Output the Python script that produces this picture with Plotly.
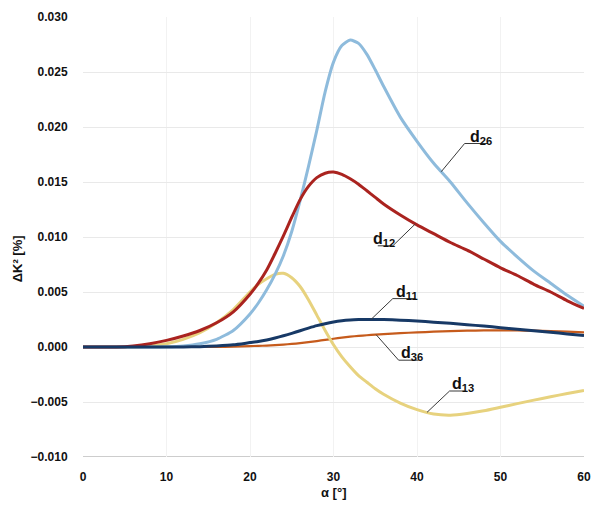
import numpy as np
import plotly.graph_objects as go

# Angle of incidence (degrees): 2° steps, 1° steps through the peaks
alpha = [0, 2, 4, 6, 8, 10, 12, 14, 16, 18,
         20, 21, 22, 23, 24, 25, 26, 27, 28, 29, 30, 31, 32, 33, 34, 35, 36,
         38, 40, 42, 44, 46, 48, 50, 52, 54, 56, 58, 60]

# Change of the coupling coefficient ΔK² [%] for each piezo constant
d26 = [0, 0, 0, 0, 0, 0.00002, 0.0001, 0.0003, 0.0007, 0.0015,
       0.0030, 0.0040, 0.0052, 0.0066, 0.0083, 0.0105, 0.0133, 0.0164, 0.0197, 0.0232,
       0.0259, 0.0274, 0.0279, 0.0276, 0.0266, 0.0252, 0.0237,
       0.0209, 0.0187, 0.0167, 0.0150, 0.0131, 0.0113, 0.0096, 0.0082, 0.0069, 0.0058, 0.0047, 0.0037]
d12 = [0, 0, 0, 0.0001, 0.0003, 0.0006, 0.0010, 0.0015, 0.0022, 0.0032,
       0.0048, 0.0058, 0.0070, 0.0085, 0.0101, 0.0118, 0.0134, 0.0146, 0.0154, 0.0158,
       0.0159, 0.0157, 0.0153, 0.0148, 0.0142, 0.0136, 0.0130,
       0.0120, 0.0111, 0.0103, 0.0095, 0.0088, 0.0080, 0.0072, 0.0065, 0.0057, 0.0050, 0.0042, 0.0035]
d13 = [0, 0, 0, 0, 0.0001, 0.0003, 0.0007, 0.0013, 0.0022, 0.0034,
       0.0050, 0.0057, 0.0062, 0.0066, 0.0067, 0.0063, 0.0055, 0.0043, 0.0029, 0.0015,
       0.0002, -0.0009, -0.0018, -0.0026, -0.0032, -0.0038, -0.0043,
       -0.0051, -0.0057, -0.0061, -0.0062, -0.00605, -0.0058, -0.00548, -0.00515, -0.00483,
       -0.00452, -0.00423, -0.00395]
d11 = [0, 0, 0, 0, 0, 0, 0, 0.00003, 0.0001, 0.0002,
       0.00040, 0.00050, 0.00064, 0.00082, 0.00102, 0.00124, 0.00148, 0.00172, 0.00194, 0.00212,
       0.00227, 0.00238, 0.00245, 0.00249, 0.00251, 0.00251, 0.00250,
       0.00244, 0.00236, 0.00226, 0.00215, 0.00203, 0.00190, 0.00176, 0.00162, 0.00148, 0.00134, 0.00119, 0.00104]
d36 = [0, 0, 0, 0, 0, 0, 0, 0, 0, 0.00003,
       0.00008, 0.00010, 0.00013, 0.00017, 0.00022, 0.00028, 0.00035, 0.00044, 0.00054, 0.00065,
       0.00075, 0.00085, 0.00094, 0.00101, 0.00107, 0.00112, 0.00117,
       0.00126, 0.00133, 0.00139, 0.00144, 0.00148, 0.00151, 0.00152, 0.00151, 0.00148, 0.00144, 0.00139, 0.00133]

x_ticks = [0, 10, 20, 30, 40, 50, 60]
y_ticks = [-0.010, -0.005, 0.000, 0.005, 0.010, 0.015, 0.020, 0.025, 0.030]

# name, values, colour, width
series = [
    ("d36", d36, "#C65B1C", 2.2),
    ("d13", d13, "#E7D27E", 3),
    ("d26", d26, "#8EBBDC", 3),
    ("d12", d12, "#AA231F", 3),
    ("d11", d11, "#173966", 3),
]

# label callouts: curve point (alpha), joint (alpha, value), underline end (alpha), text left (alpha), subscript
callouts = {
    "d26": (42.9, 45.7, 0.0185, 48.5, 46.1, "26"),
    "d12": (39.8, 37.1, 0.0092, 35.3, 34.5, "12"),
    "d11": (34.5, 37.1, 0.0044, 39.8, 37.2, "11"),
    "d36": (35.1, 37.8, -0.0012, 40.2, 37.8, "36"),
    "d13": (41.2, 43.9, -0.0040, 45.7, 43.9, "13"),
}

fig = go.Figure()
for name, vals, color, w in series:
    fig.add_trace(go.Scatter(
        x=alpha, y=vals, mode="lines", name=name,
        line=dict(color=color, width=w, shape="spline", smoothing=0.6),
        showlegend=False,
    ))

values = {name: vals for name, vals, _, _ in series}
for name, (ac, aj, yj, ae, at, sub) in callouts.items():
    yc = float(np.interp(ac, alpha, values[name]))
    fig.add_shape(type="path",
                  path=f"M {ac},{yc} L {aj},{yj} L {ae},{yj}",
                  line=dict(color="#3a3a3a", width=1), xref="x", yref="y")
    fig.add_annotation(x=at, y=yj, xref="x", yref="y", xanchor="left",
                       yanchor="bottom", yshift=-5, showarrow=False,
                       text=f"d<sub>{sub}</sub>",
                       font=dict(family="Liberation Sans", size=16, color="#111111",
                                 weight="bold"))

axis_font = dict(family="Liberation Sans", size=12, color="#111111", weight="bold")
fig.update_xaxes(
    range=[0, 60], tickvals=x_ticks, ticktext=[str(v) for v in x_ticks],
    showgrid=True, gridcolor="#f2f2f2", gridwidth=1,
    showline=False, zeroline=False,
    ticks="outside", ticklen=9, tickcolor="rgba(0,0,0,0)",
    tickfont=axis_font,
)
fig.update_yaxes(
    range=[-0.010, 0.030], tickvals=y_ticks, tickformat=".3f",
    showgrid=True, gridcolor="#e9e9e9", gridwidth=1,
    zeroline=False, showline=False,
    ticks="outside", ticklen=12, tickcolor="rgba(0,0,0,0)",
    tickfont=axis_font,
)
# darker base line at the bottom of the plot
fig.add_shape(type="line", xref="paper", yref="y", x0=0, x1=1, y0=-0.010, y1=-0.010,
              line=dict(color="#bdbdbd", width=1.5), layer="below")

title_font = dict(family="Liberation Sans", size=13, color="#111111", weight="bold")
fig.add_annotation(text="ΔK² [%]", xref="paper", yref="paper",
                   x=-0.15, y=0.45, textangle=-90, showarrow=False, font=title_font)
fig.add_annotation(text="α [°]", xref="paper", yref="paper",
                   x=0.5, y=-0.08, yanchor="middle", showarrow=False, font=title_font)

fig.update_layout(
    width=601, height=510,
    margin=dict(l=83, r=10, t=13, b=53),
    paper_bgcolor="white", plot_bgcolor="white",
    font=dict(family="Liberation Sans"),
)
fig.write_html("out.html")
